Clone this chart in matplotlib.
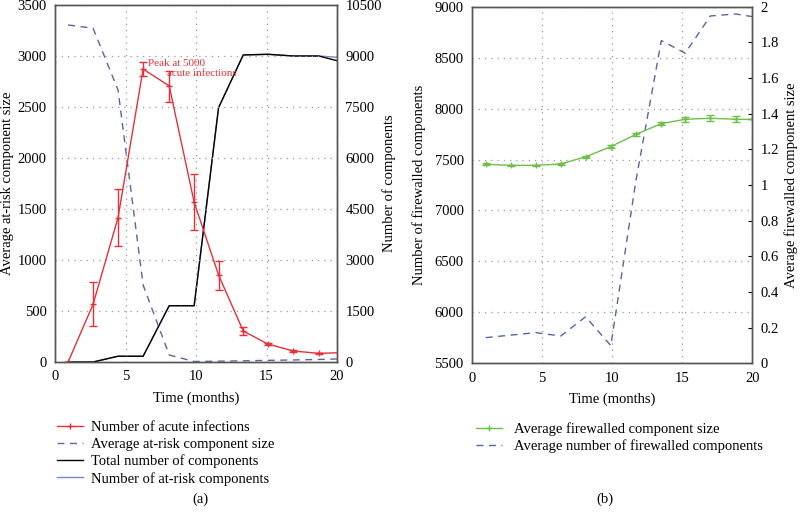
import matplotlib.pyplot as plt
from matplotlib.lines import Line2D
import numpy as np

plt.rcParams['font.family'] = ['Liberation Serif', 'DejaVu Serif']
plt.rcParams['font.size'] = 10.5

# panel (a) data
t_a = [0.93, 2.7, 4.47, 6.25, 8.1, 9.87, 11.6, 13.35, 15.1, 16.9, 18.7, 20.0]
acute = [0, 566, 1415, 2872, 2706, 1566, 853, 304, 176, 108, 85, 90]
acute_lo = [0, 356, 1140, 2804, 2552, 1294, 706, 265, 165, 100, 78, 90]
acute_hi = [0, 780, 1693, 2941, 2856, 1843, 993, 346, 190, 116, 92, 90]
risk_size = [3304, 3272, 2667, 755, 69, 5, 8, 12, 16, 20, 25, 30]
total_comp = [0, 0, 170, 170, 1656, 1656, 7480, 9030, 9050, 9000, 9000, 8862]
risk_comp = [0, 0, 170, 170, 1656, 1656, 7480, 9030, 9050, 9000, 9000, 8962]

# panel (b) data
t_b = [0.98, 2.76, 4.54, 6.33, 8.1, 9.9, 11.7, 13.5, 15.2, 17.0, 18.8, 20.0]
fw_size = [7453, 7443, 7443, 7456, 7527, 7626, 7748, 7852, 7895, 7905, 7895, 7893]
fw_err = [8, 6, 6, 8, 12, 15, 15, 15, 22, 28, 28, 0]
fw_num = [0.144, 0.158, 0.172, 0.153, 0.261, 0.099, 1.03, 1.81, 1.739, 1.948, 1.959, 1.944]

red = '#e8303a'
blue = '#5566a6'
blue2 = '#7788c8'
green = '#6cc04a'
spine_c = '#555555'
dash = (0, (5, 4))

fig = plt.figure(figsize=(8, 5.14), dpi=100)


def style(ax):
    for s in ax.spines.values():
        s.set_color(spine_c)
        s.set_linewidth(1.0)
    ax.tick_params(length=0, pad=6)


# ---- panel (a)
ax1 = fig.add_axes([0.06875, 0.2957, 0.3525, 0.6946])
ax1r = ax1.twinx()
ax1.set_zorder(ax1r.get_zorder() + 1)
ax1.patch.set_visible(False)

lo = np.array(acute) - np.array(acute_lo)
hi = np.array(acute_hi) - np.array(acute)
ax1.errorbar(t_a[:-1], acute[:-1], yerr=[lo[:-1], hi[:-1]], color=red, lw=1,
             marker='+', ms=4, capsize=3, elinewidth=1)
ax1.plot(t_a[-2:], acute[-2:], color=red, lw=1)
ax1.plot(t_a, risk_size, color=blue, lw=1, ls=dash)
ax1r.plot(t_a, risk_comp, color=blue2, lw=1)
ax1r.plot(t_a, total_comp, color='black', lw=1)

ax1.set_xlim(0, 20)
ax1.set_ylim(0, 3500)
ax1r.set_ylim(0, 10500)
ax1.set_xticks([0, 5, 10, 15, 20])
ax1.set_yticks(range(0, 3501, 500))
ax1r.set_yticks(range(0, 10501, 1500))
ax1.grid(True, ls=(0, (1, 4)), color='#999999', lw=0.9)
ax1.set_xlabel('Time (months)', labelpad=6)
ax1.set_ylabel('Average at-risk component size')
ax1.yaxis.set_label_coords(-0.145, 0.5)
ax1r.set_ylabel('Number of components')
ax1r.yaxis.set_label_coords(1.16, 0.5)
style(ax1)
style(ax1r)
ax1.text(6.6, 2931, 'Peak at 5000', color=red, fontsize=8, va='center')
ax1.text(7.95, 2828, 'acute infections', color=red, fontsize=8, va='center')

hands_a = [Line2D([], [], color=red, lw=1, marker='+', ms=4),
           Line2D([], [], color=blue, lw=1, ls=dash),
           Line2D([], [], color='black', lw=1),
           Line2D([], [], color=blue2, lw=1)]
fig.legend(hands_a,
           ['Number of acute infections', 'Average at-risk component size',
            'Total number of components', 'Number of at-risk components'],
           loc='upper left', bbox_to_anchor=(0.064, 0.193), frameon=False,
           handlelength=1.8, handletextpad=0.5, labelspacing=0.25, borderaxespad=0)
fig.text(0.25, 0.022, '(a)', ha='center')

# ---- panel (b)
ax2 = fig.add_axes([0.59, 0.2932, 0.3506, 0.6938])
ax2r = ax2.twinx()
ax2.set_zorder(ax2r.get_zorder() + 1)
ax2.patch.set_visible(False)

ax2.errorbar(t_b, fw_size, yerr=fw_err, color=green, lw=1, marker='+', ms=4,
             capsize=3, elinewidth=1)
ax2r.plot(t_b, fw_num, color=blue, lw=1, ls=dash)
ax2.set_xlim(0, 20)
ax2.set_ylim(5500, 9000)
ax2r.set_ylim(0, 2)
ax2.set_xticks([0, 5, 10, 15, 20])
ax2.set_yticks(range(5500, 9001, 500))
ax2r.set_yticks(np.arange(0, 2.01, 0.2))
ax2r.set_yticklabels(['0', '0.2', '0.4', '0.6', '0.8', '1', '1.2', '1.4', '1.6', '1.8', '2'])
ax2.grid(True, ls=(0, (1, 4)), color='#999999', lw=0.9)
ax2.set_xlabel('Time (months)', labelpad=6)
ax2.set_ylabel('Number of firewalled components')
ax2.yaxis.set_label_coords(-0.164, 0.5)
ax2r.set_ylabel('Average firewalled component size')
ax2r.yaxis.set_label_coords(1.113, 0.5)
style(ax2)
style(ax2r)
ax2r.tick_params(axis='y', length=3, direction='in')

hands_b = [Line2D([], [], color=green, lw=1, marker='+', ms=4),
           Line2D([], [], color=blue, lw=1, ls=dash)]
fig.legend(hands_b, ['Average firewalled component size', 'Average number of firewalled components'],
           loc='upper left', bbox_to_anchor=(0.588, 0.19), frameon=False,
           handlelength=1.8, handletextpad=0.8, labelspacing=0.25, borderaxespad=0)
fig.text(0.756, 0.022, '(b)', ha='center')

fig.savefig('out.png', dpi=100)
